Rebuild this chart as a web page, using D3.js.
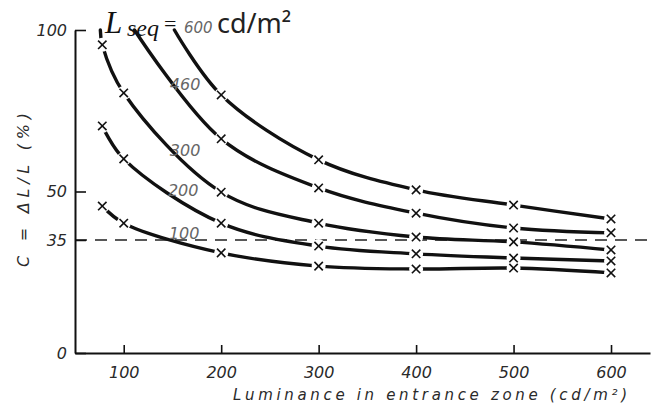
<!DOCTYPE html>
<html><head><meta charset="utf-8">
<script src="https://cdn.jsdelivr.net/npm/d3@7"></script>
<style>body{margin:0;background:#fff}svg{display:block}</style>
</head><body><svg id="c" width="652" height="410"></svg>
<script>
// ---- data ----
const xValues = [78, 100, 200, 300, 400, 500, 600];          // luminance in entrance zone (cd/m2)
const curveNames = ["600", "460", "300", "200", "100"];       // L_seq (cd/m2)
const c600 = [null, null, 79.9, 59.8, 50.5, 45.8, 41.5];
const c460 = [null, null, 66.3, 51.1, 43.3, 38.7, 37.2];
const c300 = [95.4, 80.5, 49.8, 40.2, 35.9, 34.4, 31.9];
const c200 = [70.3, 60.1, 40.2, 33.1, 30.7, 29.4, 28.5];
const c100 = [45.5, 40.2, 31.0, 26.9, 26.0, 26.3, 24.8];
const curveStartX = [152, 111, 76, null, null];               // where each curve leaves C = 100 %
const xTicks = [100, 200, 300, 400, 500, 600];
const yTicks = [0, 35, 50, 100];
const thresholdC = 35;

const seriesValues = [c600, c460, c300, c200, c100];

// ---- layout ----
const svg = d3.select("#c");
const x = d3.scaleLinear().domain([50, 640]).range([75, 650]);
const y = d3.scaleLinear().domain([0, 100]).range([353, 30]);
const tickFont = "'DejaVu Sans', sans-serif";

// threshold dashed line
svg.append("line")
  .attr("x1", x(50)).attr("x2", 652)
  .attr("y1", y(thresholdC)).attr("y2", y(thresholdC))
  .attr("stroke", "#222").attr("stroke-width", 1.4)
  .attr("stroke-dasharray", "12,8");

// curves
const line = d3.line().x(d => x(d[0])).y(d => y(d[1])).curve(d3.curveCatmullRom.alpha(0.5));
const series = curveNames.map((name, i) => {
  const marks = xValues.map((xv, j) => [xv, seriesValues[i][j]]).filter(d => d[1] != null);
  const pts = (curveStartX[i] != null ? [[curveStartX[i], 100]] : []).concat(marks);
  return { name, marks, pts };
});

svg.append("g").selectAll("path").data(series).join("path")
  .attr("d", d => line(d.pts))
  .attr("fill", "none").attr("stroke", "#111").attr("stroke-width", 3.4)
  .attr("stroke-linecap", "round");

// gaps around markers
const allMarks = series.flatMap(s => s.marks);
svg.append("g").selectAll("circle").data(allMarks).join("circle")
  .attr("cx", d => x(d[0])).attr("cy", d => y(d[1])).attr("r", 7).attr("fill", "#fff");

// x markers
const mg = svg.append("g").attr("stroke", "#111").attr("stroke-width", 1.6);
allMarks.forEach(d => {
  const cx = x(d[0]), cy = y(d[1]), s = 4.2;
  mg.append("line").attr("x1", cx - s).attr("y1", cy - s).attr("x2", cx + s).attr("y2", cy + s);
  mg.append("line").attr("x1", cx - s).attr("y1", cy + s).attr("x2", cx + s).attr("y2", cy - s);
});

// axes
const xAxis = svg.append("g").attr("transform", `translate(0,${y(0)})`)
  .call(d3.axisBottom(x).tickValues(xTicks).tickSizeInner(-8).tickSizeOuter(0).tickPadding(14));
const yAxis = svg.append("g").attr("transform", `translate(${x(50)},0)`)
  .call(d3.axisLeft(y).tickValues(yTicks).tickSizeInner(-11).tickSizeOuter(0).tickPadding(8));
[xAxis, yAxis].forEach(g => {
  g.select(".domain").attr("stroke", "#111").attr("stroke-width", 2);
  g.selectAll(".tick line").attr("stroke", "#111").attr("stroke-width", 1.6);
  g.selectAll(".tick text").attr("fill", "#2a2a2a").style("font-family", tickFont)
    .style("font-style", "italic").style("font-size", "16px");
});

// axis titles
svg.append("text").attr("x", 233).attr("y", 400)
  .attr("textLength", 394).attr("lengthAdjust", "spacing")
  .attr("fill", "#2a2a2a").style("font-family", tickFont).style("font-style", "italic").style("font-size", "15px")
  .text("Luminance in entrance zone (cd/m²)");
svg.append("text").attr("transform", "translate(29,267) rotate(-90)")
  .attr("textLength", 154).attr("lengthAdjust", "spacing")
  .attr("fill", "#2a2a2a").style("font-family", tickFont).style("font-style", "italic").style("font-size", "16px")
  .text("C = ΔL/L (%)");

// curve labels (600 is in the title)
const labelAt = { "460": [163, 81.5], "300": [163, 61], "200": [161, 48.5], "100": [162, 35.3] };
svg.append("g").selectAll("text").data(curveNames.filter(n => labelAt[n])).join("text")
  .attr("x", d => x(labelAt[d][0])).attr("y", d => y(labelAt[d][1]))
  .attr("text-anchor", "middle").attr("fill", "#666")
  .style("font-family", tickFont).style("font-style", "italic").style("font-size", "16px")
  .text(d => d);

// title  L_seq = 600 cd/m²
const serif = "'Liberation Serif', 'DejaVu Serif', serif";
svg.append("text").attr("x", 105).attr("y", 33).attr("fill", "#111")
  .style("font-family", serif).style("font-style", "italic").style("font-size", "31px").text("L");
svg.append("text").attr("x", 127).attr("y", 36).attr("fill", "#111")
  .style("font-family", serif).style("font-style", "italic").style("font-size", "24px").text("seq");
svg.append("text").attr("x", 164).attr("y", 31).attr("fill", "#111")
  .style("font-family", serif).style("font-size", "22px").text("=");
svg.append("text").attr("x", 184).attr("y", 33).attr("fill", "#666")
  .style("font-family", tickFont).style("font-style", "italic").style("font-size", "15px").text(curveNames[0]);
svg.append("text").attr("x", 217).attr("y", 33).attr("fill", "#222")
  .style("font-family", "'Noto Sans', 'Open Sans', sans-serif").style("font-size", "27px").text("cd/m²");
</script></body></html>
